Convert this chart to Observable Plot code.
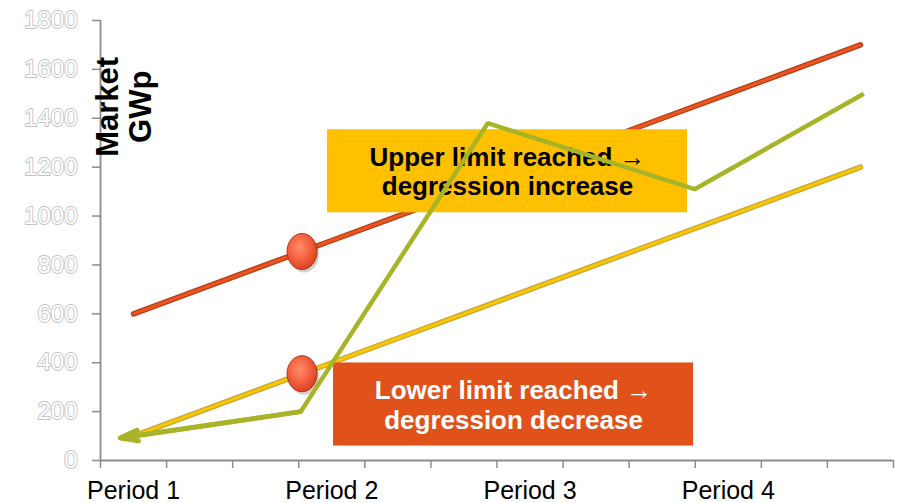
<!DOCTYPE html>
<html>
<head>
<meta charset="utf-8">
<script src="https://cdn.jsdelivr.net/npm/d3@7"></script>
<script src="https://cdn.jsdelivr.net/npm/@observablehq/plot@0.6"></script>
<style>
  body { margin: 0; background: #fff; }
  #chart svg { display: block; font-family: "Liberation Sans", Arial, sans-serif; }
</style>
</head>
<body>
<div id="chart"></div>
<script>
// Each period is split into three sub-steps (12 slots in total).
const periods = ["Period 1", "Period 2", "Period 3", "Period 4"];
const periodSlot = [0, 3, 6, 9];
const yTicks = [0, 200, 400, 600, 800, 1000, 1200, 1400, 1600, 1800];

// Corridor limits per slot (GWp)
const upperLimit = [600, 700, 800, 900, 1000, 1100, 1200, 1300, 1400, 1500, 1600, 1700];
const lowerLimit = [100, 200, 300, 400, 500, 600, 700, 800, 900, 1000, 1100, 1200];

// Actual market path (slot position, GWp)
const marketX = [0.3, 3.03, 5.86, 8.99, 11.55];
const marketY = [92, 200, 1380, 1110, 1500];

// Points where the market touches a limit
const hitX = [3.05, 3.05];
const hitY = [855, 355];

const upper = upperLimit.map((v, i) => ({x: i + 0.5, y: v}));
const lower = lowerLimit.map((v, i) => ({x: i + 0.5, y: v}));
const market = marketX.map((x, i) => ({x, y: marketY[i]}));
const hits = hitX.map((x, i) => ({x, y: hitY[i]}));

const font = '"Liberation Sans", Arial, sans-serif';
const axisGray = "#8c8c8c";

// Slightly tall ellipse used for the limit markers
const ellipse = {
  draw(ctx, size) {
    const r = Math.sqrt(size / Math.PI), rx = r, ry = r * 1.2, k = 0.5523;
    ctx.moveTo(rx, 0);
    ctx.bezierCurveTo(rx, ry * k, rx * k, ry, 0, ry);
    ctx.bezierCurveTo(-rx * k, ry, -rx, ry * k, -rx, 0);
    ctx.bezierCurveTo(-rx, -ry * k, -rx * k, -ry, 0, -ry);
    ctx.bezierCurveTo(rx * k, -ry, rx, -ry * k, rx, 0);
    ctx.closePath();
  }
};

const upperBox = {x1: 3.435, x2: 8.883, y1: 1013.5, y2: 1353};
const lowerBox = {x1: 3.526, x2: 8.974, y1: 59, y2: 399};

const chart = Plot.plot({
  width: 898,
  height: 503,
  marginLeft: 100,
  marginRight: 5,
  marginTop: 20,
  marginBottom: 43,
  style: {fontFamily: font, background: "#fff"},
  x: {domain: [0, 12], axis: null},
  y: {domain: [0, 1800], axis: null},
  marks: [
    // axes
    Plot.axisX({ticks: d3.range(13), tickSize: 8, tickFormat: () => "", color: axisGray, strokeWidth: 1.5}),
    Plot.axisY({ticks: yTicks, tickSize: 8, tickFormat: () => "", color: axisGray, strokeWidth: 1.5}),
    Plot.ruleY([0], {stroke: axisGray, strokeWidth: 1.8}),
    Plot.ruleX([0], {stroke: axisGray, strokeWidth: 1.8}),
    Plot.text(yTicks, {
      y: d => d, frameAnchor: "left", dx: -23, textAnchor: "end",
      text: d => String(d), fontSize: 24, fill: "#fff", stroke: "#c2c2c2", strokeWidth: 1.8
    }),
    Plot.text(periods, {
      x: (d, i) => periodSlot[i] + 0.5, frameAnchor: "bottom", dy: 38, lineAnchor: "bottom",
      text: d => d, fontSize: 25, fill: "#000"
    }),
    Plot.text(["Market\nGWp"], {
      x: 0.356, y: 1447, rotate: -90, text: d => d, fontSize: 31, fontWeight: "bold",
      lineHeight: 1.05, lineAnchor: "middle", textAnchor: "middle", fill: "#000"
    }),

    // upper limit
    Plot.line(upper, {x: "x", y: "y", stroke: "#b53c14", strokeWidth: 5.5, strokeLinecap: "round"}),
    Plot.line(upper, {x: "x", y: "y", stroke: "#ec5522", strokeWidth: 3, strokeLinecap: "round"}),
    // lower limit
    Plot.line(lower, {x: "x", y: "y", stroke: "#c9a43a", strokeWidth: 5.5, strokeLinecap: "round"}),
    Plot.line(lower, {x: "x", y: "y", stroke: "#f7c800", strokeWidth: 3, strokeLinecap: "round"}),

    // limit hits
    Plot.dot(hits, {x: "x", y: "y", r: 15, symbol: ellipse, dx: 2, dy: 3, fill: "#000", fillOpacity: 0.18}),
    Plot.dot(hits, {x: "x", y: "y", r: 15, symbol: ellipse, fill: "url(#ball)", stroke: "#a8381a", strokeWidth: 1}),

    // annotations
    Plot.rect([upperBox], {x1: "x1", x2: "x2", y1: "y1", y2: "y2", fill: "#ffc000"}),
    Plot.text(["Upper limit reached →\ndegression increase"], {
      x: (upperBox.x1 + upperBox.x2) / 2, y: (upperBox.y1 + upperBox.y2) / 2,
      text: d => d, fontSize: 26, fontWeight: "bold", lineHeight: 1.12, lineAnchor: "middle", fill: "#000"
    }),
    Plot.rect([lowerBox], {x1: "x1", x2: "x2", y1: "y1", y2: "y2", fill: "#e05219"}),
    Plot.text(["Lower limit reached →\ndegression decrease"], {
      x: (lowerBox.x1 + lowerBox.x2) / 2, y: (lowerBox.y1 + lowerBox.y2) / 2,
      text: d => d, fontSize: 26, fontWeight: "bold", lineHeight: 1.16, lineAnchor: "middle", fill: "#fff"
    }),

    // market path
    Plot.line(market, {x: "x", y: "y", stroke: "#a8b428", strokeWidth: 4.5, strokeLinejoin: "miter", strokeLinecap: "butt"}),
    Plot.arrow([0], {
      x1: marketX[1], y1: marketY[1], x2: marketX[0], y2: marketY[0],
      stroke: "#a8b428", strokeWidth: 5, headLength: 5.5, headAngle: 34
    })
  ]
});

// radial shading for the hit markers
const defs = d3.select(chart).insert("defs", ":first-child");
const g = defs.append("radialGradient").attr("id", "ball")
  .attr("cx", "42%").attr("cy", "38%").attr("r", "65%");
g.append("stop").attr("offset", "0%").attr("stop-color", "#ff8c6c");
g.append("stop").attr("offset", "55%").attr("stop-color", "#f4613f");
g.append("stop").attr("offset", "100%").attr("stop-color", "#d63f1e");

document.getElementById("chart").appendChild(chart);
</script>
</body>
</html>
